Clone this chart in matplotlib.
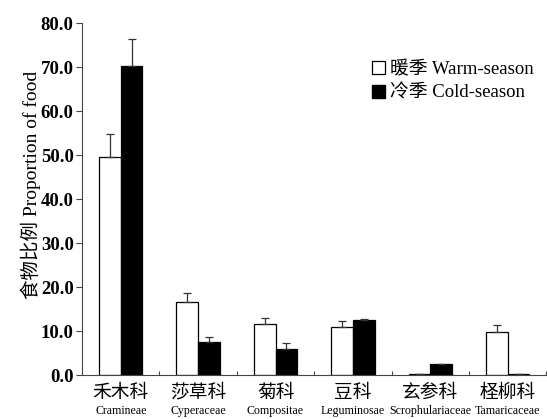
import matplotlib
matplotlib.use("Agg")
import matplotlib.pyplot as plt
import numpy as np
from matplotlib.patches import Patch

cats_cn = ["禾木科", "莎草科", "菊科", "豆科", "玄参科", "柽柳科"]
cats_en = ["Cramineae", "Cyperaceae", "Compositae", "Leguminosae", "Scrophulariaceae", "Tamaricaceae"]
warm = [49.6, 16.7, 11.5, 10.8, 0.3, 9.8]
warm_err = [5.1, 1.9, 1.4, 1.5, 0.0, 1.5]
cold = [70.3, 7.6, 5.8, 12.5, 2.5, 0.3]
cold_err = [6.1, 1.1, 1.5, 0.3, 0.0, 0.0]
yticks = [0, 10, 20, 30, 40, 50, 60, 70, 80]

fams = ["Liberation Serif", "Noto Sans CJK SC"]
plt.rcParams['font.family'] = fams

fig = plt.figure(figsize=(5.47, 4.19), dpi=100)
ax = fig.add_axes([0.150, 0.105, 0.849, 0.840])

x = np.arange(len(cats_cn))
w = 0.28
ax.bar(x - w/2, warm, w, color="white", edgecolor="black", linewidth=0.9)
ax.bar(x + w/2, cold, w, color="black", edgecolor="black", linewidth=0.9)
ew = dict(ecolor="#333333", elinewidth=0.9, capsize=3, capthick=0.9, fmt="none")
ax.errorbar(x - w/2, warm, yerr=[np.zeros(len(warm)), warm_err], **ew)
ax.errorbar(x + w/2, cold, yerr=[np.zeros(len(cold)), cold_err], **ew)

ax.set_xlim(-0.5, len(cats_cn) - 0.5)
ax.set_ylim(0, 80)
ax.set_yticks(yticks)
ax.set_yticklabels([f"{v:.1f}" for v in yticks], fontsize=13.5, fontweight="bold")
ax.spines['top'].set_visible(False)
ax.spines['right'].set_visible(False)
ax.spines['left'].set_color("#444444")
ax.spines['bottom'].set_color("#444444")
ax.tick_params(axis='y', direction='out', length=4, width=0.8, color="#444444", pad=2)
ax.set_xticks([])
ax.set_xticks(np.arange(len(cats_cn)) + 0.5, minor=True)
ax.tick_params(axis='x', which='minor', direction='in', length=3, width=0.8, color="#444444")

for i in range(len(cats_cn)):
    ax.text(x[i], -1.5, cats_cn[i], ha="center", va="top", fontsize=13.5,
            family=["Noto Sans CJK SC"])
    ax.text(x[i], -6.9, cats_en[i], ha="center", va="top", fontsize=8.6)

ax.set_ylabel("食物比例 Proportion of food", fontsize=14)
ax.yaxis.set_label_coords(-0.088, 0.54)

handles = [Patch(facecolor="white", edgecolor="black", linewidth=0.9),
           Patch(facecolor="black", edgecolor="black")]
ax.legend(handles, ["暖季 Warm-season", "冷季 Cold-season"], loc="upper right",
          bbox_to_anchor=(1.01, 0.94), frameon=False, fontsize=13.5,
          handlelength=0.7, handleheight=0.7, handletextpad=0.3, labelspacing=0.35)

fig.savefig("out.png", dpi=100)
